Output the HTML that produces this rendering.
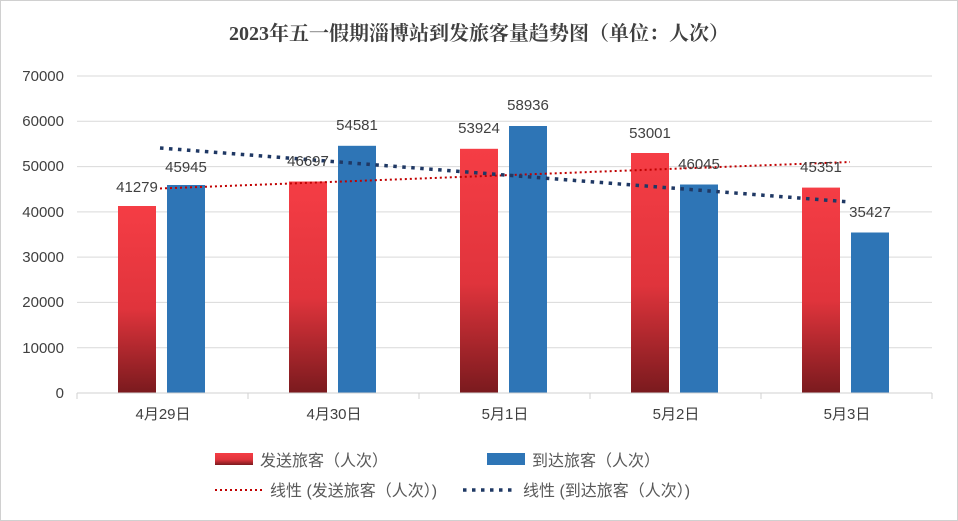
<!DOCTYPE html>
<html><head><meta charset="utf-8"><style>
html,body{margin:0;padding:0;background:#fff;}
svg{display:block;font-family:"Liberation Sans","Noto Sans CJK SC",sans-serif;}
</style></head><body>
<svg width="958" height="521" viewBox="0 0 958 521" xmlns="http://www.w3.org/2000/svg">
<defs>
<linearGradient id="rg" x1="0" y1="0" x2="0" y2="1">
<stop offset="0" stop-color="#f53d45"/><stop offset="0.55" stop-color="#e0343c"/><stop offset="1" stop-color="#7a1a1e"/>
</linearGradient>
</defs>
<rect x="0.5" y="0.5" width="957" height="520" fill="#fff" stroke="#d0d0d0"/>
<text x="479" y="40" text-anchor="middle" font-size="20" font-weight="bold" fill="#404040" font-family="Liberation Serif, Noto Serif CJK SC, serif">2023年五一假期淄博站到发旅客量趋势图（单位：人次）</text>
<g stroke="#d9d9d9" stroke-width="1">
<line x1="77" y1="76" x2="932" y2="76"/><line x1="77" y1="121.3" x2="932" y2="121.3"/>
<line x1="77" y1="166.6" x2="932" y2="166.6"/><line x1="77" y1="211.9" x2="932" y2="211.9"/>
<line x1="77" y1="257.1" x2="932" y2="257.1"/><line x1="77" y1="302.4" x2="932" y2="302.4"/>
<line x1="77" y1="347.7" x2="932" y2="347.7"/>
</g>
<g font-size="15" fill="#404040" text-anchor="end">
<text x="64" y="81">70000</text><text x="64" y="126">60000</text><text x="64" y="171">50000</text>
<text x="64" y="217">40000</text><text x="64" y="262">30000</text><text x="64" y="307">20000</text>
<text x="64" y="353">10000</text><text x="64" y="398">0</text>
</g>
<g fill="url(#rg)">
<rect x="118" y="206" width="38" height="187"/>
<rect x="289" y="181.5" width="38" height="211.5"/>
<rect x="460" y="148.8" width="38" height="244.2"/>
<rect x="631" y="153" width="38" height="240"/>
<rect x="802" y="187.6" width="38" height="205.4"/>
</g>
<g fill="#2e75b6">
<rect x="167" y="185" width="38" height="208"/>
<rect x="338" y="145.8" width="38" height="247.2"/>
<rect x="509" y="126" width="38" height="267"/>
<rect x="680" y="184.5" width="38" height="208.5"/>
<rect x="851" y="232.5" width="38" height="160.5"/>
</g>
<line x1="77" y1="393" x2="932" y2="393" stroke="#d0d0d0"/>
<g stroke="#d0d0d0"><line x1="77" y1="393" x2="77" y2="399"/><line x1="248" y1="393" x2="248" y2="399"/><line x1="419" y1="393" x2="419" y2="399"/><line x1="590" y1="393" x2="590" y2="399"/><line x1="761" y1="393" x2="761" y2="399"/><line x1="932" y1="393" x2="932" y2="399"/></g>
<line x1="160" y1="188.5" x2="850" y2="162" stroke="#c00000" stroke-width="2" stroke-dasharray="2,3"/>
<line x1="160" y1="148" x2="850" y2="202" stroke="#1f3864" stroke-width="3.5" stroke-dasharray="3.5,5.5" stroke-linecap="butt"/>
<g font-size="15" fill="#404040" text-anchor="middle">
<text x="137" y="192">41279</text><text x="186" y="172">45945</text>
<text x="308" y="166">46697</text><text x="357" y="130">54581</text>
<text x="479" y="133">53924</text><text x="528" y="110">58936</text>
<text x="650" y="138">53001</text><text x="699" y="169">46045</text>
<text x="821" y="172">45351</text><text x="870" y="217">35427</text>
</g>
<g font-size="15" fill="#404040" text-anchor="middle">
<text x="163" y="419">4月29日</text><text x="334" y="419">4月30日</text><text x="505" y="419">5月1日</text>
<text x="676" y="419">5月2日</text><text x="847" y="419">5月3日</text>
</g>
<g font-size="16" fill="#595959">
<rect x="215" y="453" width="38" height="12" fill="url(#rg)"/>
<text x="260" y="466">发送旅客（人次）</text>
<rect x="487" y="453" width="38" height="12" fill="#2e75b6"/>
<text x="532" y="466">到达旅客（人次）</text>
<line x1="215" y1="490" x2="263" y2="490" stroke="#c00000" stroke-width="2" stroke-dasharray="2,3"/>
<text x="270" y="496">线性 (发送旅客（人次）)</text>
<line x1="463" y1="490" x2="512" y2="490" stroke="#1f3864" stroke-width="3.5" stroke-dasharray="3.5,5.5"/>
<text x="523" y="496">线性 (到达旅客（人次）)</text>
</g>
</svg>
</body></html>
